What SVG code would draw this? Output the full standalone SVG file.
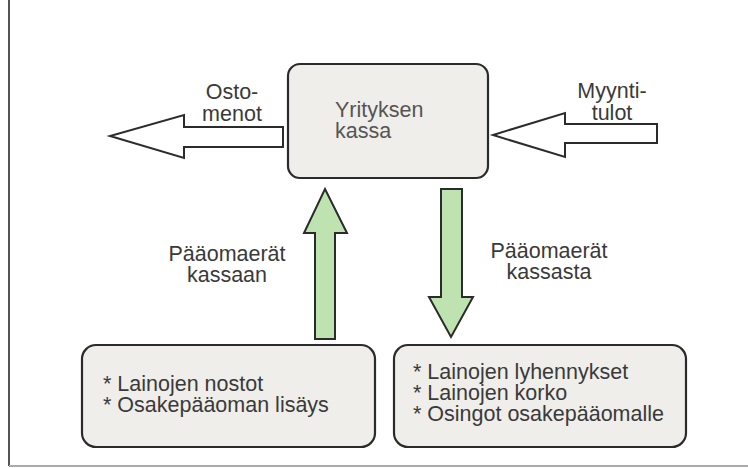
<svg xmlns="http://www.w3.org/2000/svg" width="748" height="468" viewBox="0 0 748 468">
<style>
text{font-family:"Liberation Sans",Arial,sans-serif;font-size:21.5px;fill:#3a3a3a}
.box{fill:#efeeea;stroke:#2b2b2b;stroke-width:2.2}
.hollow{fill:#ffffff;stroke:#2b2b2b;stroke-width:2}
.green{fill:#bfe3b0;stroke:#2b2b2b;stroke-width:2}
.c{text-anchor:middle}
</style>
<rect x="0" y="0" width="748" height="468" fill="#ffffff"/>
<g id="frame">
<line x1="9" y1="0" x2="9" y2="466" stroke="#555" stroke-width="2"/>
<line x1="9" y1="466" x2="748" y2="466" stroke="#aaa" stroke-width="2"/>
</g>
<g id="connectors">
<polygon class="hollow" points="283,127 184,127 184,115 110,136 184,158 184,147 283,147"/>
<polygon class="hollow" points="657,124 565,124 565,113 493,135 565,157 565,143 657,143"/>
<polygon class="green" points="315,339 315,233 304,233 325,189 347,233 335,233 335,339"/>
<polygon class="green" points="441,189 462,189 462,297 473,297 451,337 429,297 441,297"/>
</g>
<g id="label-ostomenot">
<text class="c" x="232" y="99">Osto-</text>
<text class="c" x="232" y="121">menot</text>
</g>
<g id="label-myyntitulot">
<text class="c" x="612" y="98">Myynti-</text>
<text class="c" x="612" y="120">tulot</text>
</g>
<g id="label-kassaan">
<text class="c" x="227" y="261">Pääomaerät</text>
<text class="c" x="227" y="282">kassaan</text>
</g>
<g id="label-kassasta">
<text class="c" x="549" y="258">Pääomaerät</text>
<text class="c" x="549" y="279">kassasta</text>
</g>
<g id="node-kassa">
<rect class="box" x="288" y="64" width="200" height="114" rx="12"/>
<text x="335" y="117" style="fill:#555">Yrityksen</text>
<text x="335" y="138" style="fill:#555">kassa</text>
</g>
<g id="node-sisaan">
<rect class="box" x="82" y="345" width="293" height="102" rx="14"/>
<text x="103" y="391">* Lainojen nostot</text>
<text x="103" y="412">* Osakepääoman lisäys</text>
</g>
<g id="node-ulos">
<rect class="box" x="394" y="345" width="292" height="102" rx="14"/>
<text x="413" y="379">* Lainojen lyhennykset</text>
<text x="413" y="400">* Lainojen korko</text>
<text x="413" y="421">* Osingot osakepääomalle</text>
</g>
</svg>
